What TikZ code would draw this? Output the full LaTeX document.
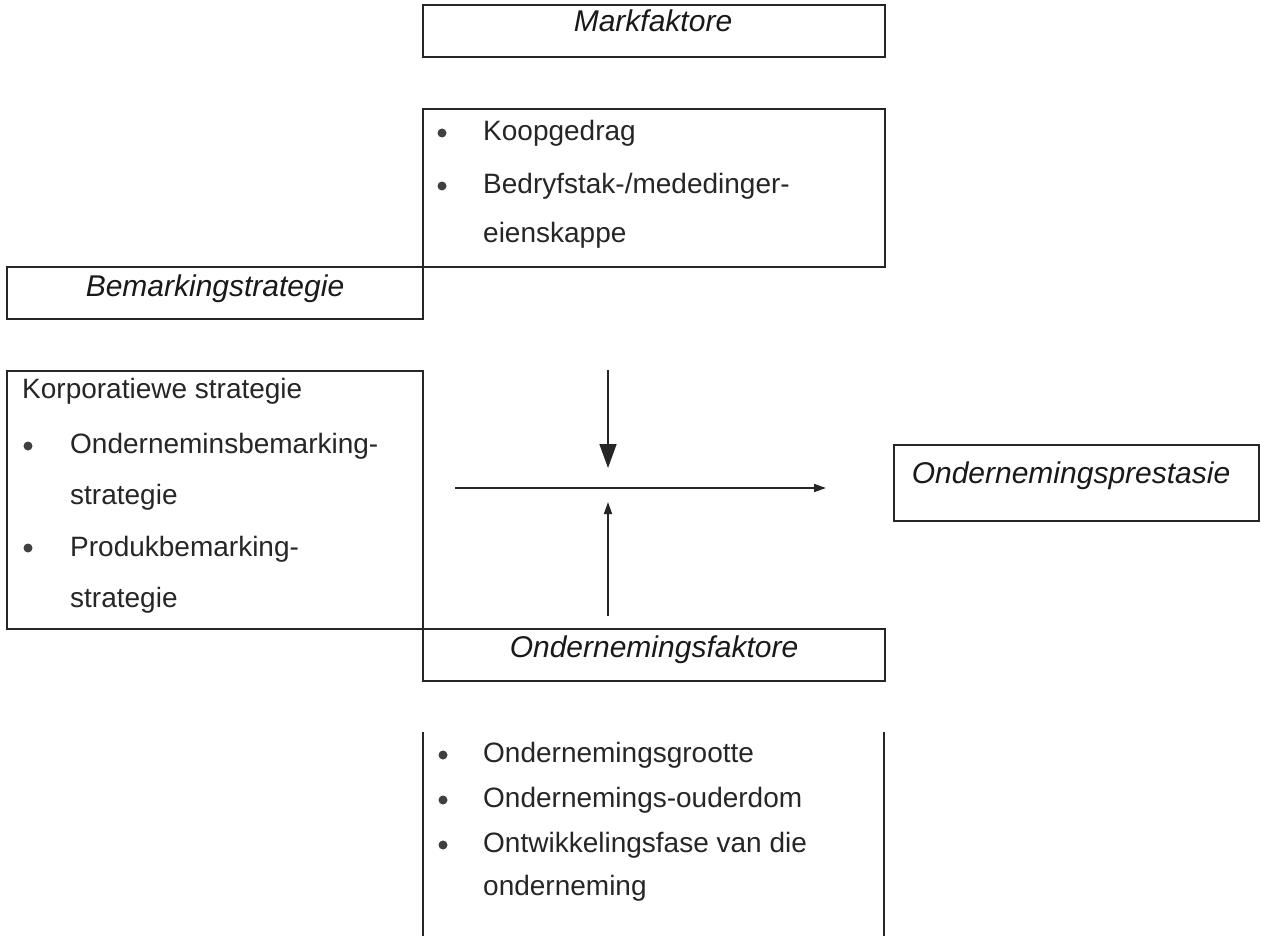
\documentclass[tikz,border=0pt]{standalone}
\usepackage{fontspec}
\setmainfont{Liberation Sans}
\usetikzlibrary{arrows.meta}
\begin{document}
\begin{tikzpicture}[x=1pt,y=-1pt,
  frame/.style={draw=black!85, line width=1.8pt, inner sep=0, anchor=north west},
  txt/.style={anchor=base west, inner sep=0, text=black!85, font=\fontsize{28}{30}\selectfont},
  head/.style={anchor=base, inner sep=0, text=black!90, font=\fontsize{30}{32}\selectfont\itshape},
  bul/.style={circle, fill=black!75, inner sep=0, minimum size=9pt},
  conn/.style={draw=black!85, line width=1.5pt}]
\useasboundingbox (0,0) rectangle (1261,936);
\fill[white] (0,0) rectangle (1261,936);

% boxes
\node[frame, minimum width=462pt, minimum height=52pt] (markbox) at (422,4) {};
\node[frame, minimum width=462pt, minimum height=158pt] (koopbox) at (422,108) {};
\node[frame, minimum width=416pt, minimum height=52pt] (bembox) at (6,266) {};
\node[frame, minimum width=416pt, minimum height=258pt] (korpbox) at (6,370) {};
\node[frame, minimum width=462pt, minimum height=52pt] (ondbox) at (422,628) {};
\node[frame, minimum width=365pt, minimum height=76pt] (presbox) at (893,444) {};
\coordinate (bl1) at (423,732); \coordinate (bl2) at (423,936);
\coordinate (br1) at (884,732); \coordinate (br2) at (884,936);
\draw[draw=black!85, line width=1.6pt] (bl1) -- (bl2) (br1) -- (br2);

% headings
\node[head] (mark) at (653,32) {Markfaktore};
\node[head] (bem) at (215,296) {Bemarkingstrategie};
\node[head] (ondf) at (654,657) {Ondernemingsfaktore};
\node[head] (pres) at (1071,483) {Ondernemingsprestasie};

% market factor list
\node[bul] (b1) at (442,133) {};
\node[txt] (t1) at (483,141) {Koopgedrag};
\node[bul] (b2) at (442,186) {};
\node[txt] (t2) at (483,194) {Bedryfstak-/mededinger-};
\node[txt] (t3) at (483,243) {eienskappe};

% strategy list
\node[txt] (k0) at (22,398) {Korporatiewe strategie};
\node[bul] (b3) at (28,446) {};
\node[txt] (k1) at (70,453) {Onderneminsbemarking-};
\node[txt] (k2) at (70,504) {strategie};
\node[bul] (b4) at (28,548) {};
\node[txt] (k3) at (70,556) {Produkbemarking-};
\node[txt] (k4) at (70,607) {strategie};

% firm factor list
\node[bul] (b5) at (443,755) {};
\node[txt] (o1) at (483,762) {Ondernemingsgrootte};
\node[bul] (b6) at (443,800) {};
\node[txt] (o2) at (483,807) {Ondernemings-ouderdom};
\node[bul] (b7) at (443,845) {};
\node[txt] (o3) at (483,852) {Ontwikkelingsfase van die};
\node[txt] (o4) at (483,895) {onderneming};

% connectors
\coordinate (hs) at (455,488); \coordinate (he) at (826,488);
\coordinate (ds) at (608,370); \coordinate (de) at (608,468);
\coordinate (us) at (608,616); \coordinate (ue) at (608,502);
\draw[conn, -{Triangle[length=24pt,width=17pt]}] (ds) -- (de);
\draw[conn, -{Triangle[length=12pt,width=8pt]}] (hs) -- (he);
\draw[conn, -{Triangle[length=12pt,width=8pt]}] (us) -- (ue);
\end{tikzpicture}
\end{document}
